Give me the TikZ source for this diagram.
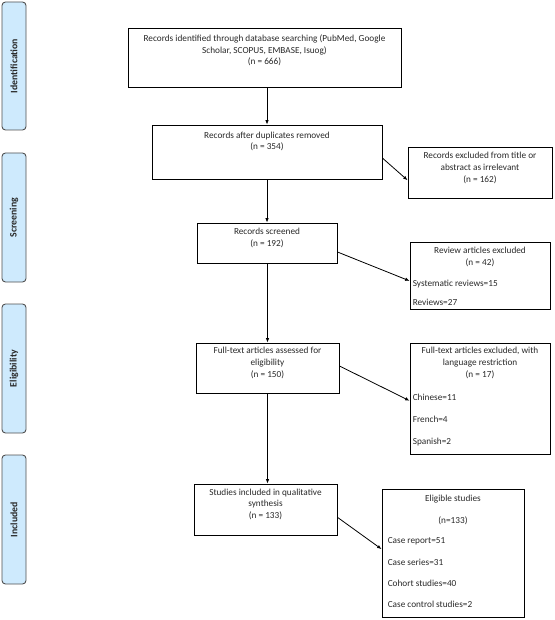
\documentclass[tikz,border=0pt]{standalone}
\usepackage{fontspec}
\setmainfont{Carlito}
\usetikzlibrary{calc,arrows.meta}
\definecolor{sidefill}{RGB}{206,234,253}
\definecolor{sidedraw}{RGB}{80,80,80}
\definecolor{txtc}{RGB}{40,40,40}
\tikzset{
  box/.style={draw=black, line width=0.8pt, rectangle, inner sep=0pt},
  side/.style={draw=sidedraw, line width=0.9pt, fill=sidefill, rounded corners=3.5pt, inner sep=0pt, minimum width=24pt},
  sidetxt/.style={rotate=90, text=txtc, font=\fontsize{9.8}{11}\selectfont\bfseries},
  txt/.style={anchor=north, inner sep=0pt, align=center, text=txtc, font=\fontsize{9.25}{11.7}\selectfont},
  lst/.style={anchor=west, inner sep=0pt, text=txtc, font=\fontsize{9.25}{11.7}\selectfont},
  arr/.style={line width=0.8pt, -{Latex[length=4.5pt,width=3.5pt]}}
}
\begin{document}
\begin{tikzpicture}[x=1pt,y=-1pt]
\useasboundingbox (0,0) rectangle (554,620);
% side labels
\node[side, minimum height=128pt] (s1) at (14,66) {};
\node[sidetxt] at (s1) {Identification};
\node[side, minimum height=129pt] (s2) at (14,217.5) {};
\node[sidetxt] at (s2) {Screening};
\node[side, minimum height=129pt] (s3) at (14,368.5) {};
\node[sidetxt] at (s3) {Eligibility};
\node[side, minimum height=129pt] (s4) at (14,519.5) {};
\node[sidetxt] at (s4) {Included};
% main boxes
\node[box, minimum width=273pt, minimum height=59pt] (b1) at (264.5,57.5) {};
\node[txt] at ($(b1.north)+(0,7)$) {Records identified through database searching (PubMed, Google\\Scholar, SCOPUS, EMBASE, Isuog)\\(n = 666)};
\node[box, minimum width=230pt, minimum height=54pt] (b2) at (267,152) {};
\node[txt] at ($(b2.north)+(0,7)$) {Records after duplicates removed\\(n = 354)};
\node[box, minimum width=140pt, minimum height=40pt] (b3) at (267,243) {};
\node[txt] at ($(b3.north)+(0,5.5)$) {Records screened\\(n = 192)};
\node[box, minimum width=143pt, minimum height=50pt] (b4) at (267.5,368) {};
\node[txt] at ($(b4.north)+(0,4.5)$) {Full-text articles assessed for\\eligibility\\(n = 150)};
\node[box, minimum width=143pt, minimum height=51pt] (b5) at (265.5,509.5) {};
\node[txt] at ($(b5.north)+(0,5)$) {Studies included in qualitative\\synthesis\\(n = 133)};
% exclusion boxes
\node[box, minimum width=144pt, minimum height=51pt] (e1) at (480,172.5) {};
\node[txt] at ($(e1.north)+(0,5.5)$) {Records excluded from title or\\abstract as irrelevant\\(n = 162)};
\node[box, minimum width=140pt, minimum height=67pt] (e2) at (480,275.5) {};
\node[txt] at ($(e2.north)+(0,5.5)$) {Review articles excluded\\(n = 42)};
\node[lst] at ($(e2.north west)+(3,42)$) {Systematic reviews=15};
\node[lst] at ($(e2.north west)+(3,61)$) {Reviews=27};
\node[box, minimum width=140pt, minimum height=111pt] (e3) at (480,398.5) {};
\node[txt] at ($(e3.north)+(0,4.5)$) {Full-text articles excluded, with\\language restriction\\(n = 17)};
\node[lst] at ($(e3.north west)+(3,55)$) {Chinese=11};
\node[lst] at ($(e3.north west)+(3,77)$) {French=4};
\node[lst] at ($(e3.north west)+(3,99)$) {Spanish=2};
\node[box, minimum width=142pt, minimum height=128pt] (e4) at (453,553) {};
\node[txt] at ($(e4.north)+(0,6.5)$) {Eligible studies};
\node[txt] at ($(e4.north)+(0,27.5)$) {(n=133)};
\node[lst] at ($(e4.north west)+(6,53)$) {Case report=51};
\node[lst] at ($(e4.north west)+(6,74)$) {Case series=31};
\node[lst] at ($(e4.north west)+(6,95)$) {Cohort studies=40};
\node[lst] at ($(e4.north west)+(6,116)$) {Case control studies=2};
% vertical connectors
\draw[arr] (b2.north |- b1.south) -- (b2.north);
\draw[arr] (b2.south) -- (b3.north);
\draw[arr] (b3.south) -- (b4.north |- b3.south) -- (b4.north);
\draw[arr] (b4.north |- b4.south) -- (b4.north |- b5.north);
% diagonal connectors
\coordinate (p2) at ($(b2.north east)!0.61!(b2.south east)$);
\coordinate (q1) at ($(e1.north west)!0.65!(e1.south west)$);
\draw[arr] (p2) -- (q1);
\coordinate (p3) at ($(b3.north east)!0.72!(b3.south east)$);
\coordinate (q2) at ($(e2.north west)!0.58!(e2.south west)$);
\draw[arr] (p3) -- (q2);
\coordinate (p4) at ($(b4.north east)!0.46!(b4.south east)$);
\coordinate (q3) at ($(e3.north west)!0.52!(e3.south west)$);
\draw[arr] (p4) -- (q3);
\coordinate (p5) at ($(b5.north east)!0.65!(b5.south east)$);
\coordinate (q4) at ($(e4.north west)!0.47!(e4.south west)$);
\draw[arr] (p5) -- (q4);
\end{tikzpicture}
\end{document}
